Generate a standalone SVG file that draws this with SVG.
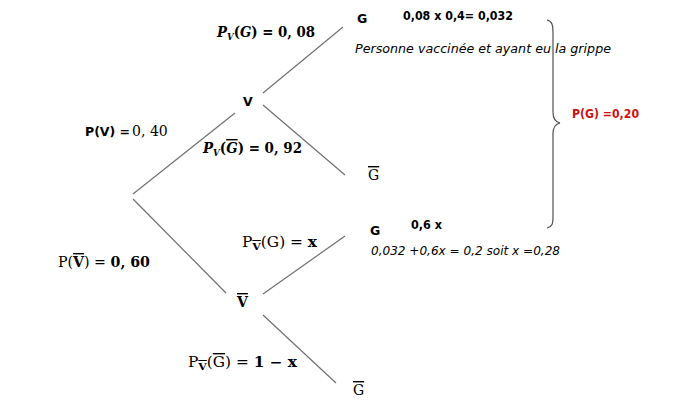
<svg xmlns="http://www.w3.org/2000/svg" width="674" height="409" viewBox="0 0 674 409">
<style>
.s{font-family:"DejaVu Sans","Verdana",sans-serif;font-size:12px;fill:#000}
.sb{font-family:"DejaVu Sans","Verdana",sans-serif;font-size:12.5px;font-weight:bold;fill:#000}
.si{font-family:"DejaVu Sans","Verdana",sans-serif;font-size:12px;font-style:italic;fill:#000}
.m{font-family:"DejaVu Serif","Liberation Serif",serif;font-size:14px;fill:#000}
.ol{text-decoration:overline}
.edge{stroke:#707070;stroke-width:1.2;fill:none}
</style>
<rect width="674" height="409" fill="#fff"/>
<g id="connectors">
<line class="edge" x1="133" y1="194" x2="235" y2="113"/>
<line class="edge" x1="133" y1="199" x2="226" y2="293"/>
<line class="edge" x1="263" y1="93" x2="343" y2="27"/>
<line class="edge" x1="263" y1="105" x2="345" y2="175"/>
<line class="edge" x1="263" y1="294" x2="345" y2="236"/>
<line class="edge" x1="263" y1="315" x2="336" y2="383"/>
</g>
<g id="brace">
<path d="M547,20 C552,21 553,25 553,32 L553,112 C553,119 555,122 560,123 C555,124 553,127 553,134 L553,217 C553,224 552,227 547,228" stroke="#505050" stroke-width="1.2" fill="none"/>
</g>
<g id="node-V">
<text class="sb" x="243" y="106">V</text>
</g>
<g id="node-Vbar">
<text class="m" x="237" y="307" font-weight="bold"><tspan class="ol">V</tspan></text>
</g>
<g id="node-G1">
<text class="sb" x="357" y="23">G</text>
</g>
<g id="node-Gbar1">
<text class="m" x="368" y="180"><tspan class="ol">G</tspan></text>
</g>
<g id="node-G2">
<text class="sb" x="370" y="235">G</text>
</g>
<g id="node-Gbar2">
<text class="m" x="353" y="395"><tspan class="ol">G</tspan></text>
</g>
<g id="labels">
<text class="sb" x="403" y="20" textLength="110" lengthAdjust="spacingAndGlyphs">0,08 x 0,4= 0,032</text>
<text class="si" x="355" y="53" textLength="256" lengthAdjust="spacingAndGlyphs">Personne vaccinée et ayant eu la grippe</text>
<text class="sb" x="572" y="118" style="fill:#d01010" textLength="67" lengthAdjust="spacingAndGlyphs">P(G) =0,20</text>
<text class="sb" x="411" y="229" textLength="31" lengthAdjust="spacingAndGlyphs">0,6 x</text>
<text class="si" x="371" y="255" textLength="189" lengthAdjust="spacingAndGlyphs">0,032 +0,6x = 0,2 soit x =0,28</text>
<text x="85" y="136"><tspan class="sb">P(V) =</tspan><tspan class="m" font-size="13" dx="2">0, 40</tspan></text>
<text class="m" x="217" y="37" font-weight="bold" font-size="13" textLength="98" lengthAdjust="spacingAndGlyphs"><tspan font-style="italic">P</tspan><tspan font-size="9" dy="3" font-style="italic">V</tspan><tspan dy="-3">(</tspan><tspan font-style="italic">G</tspan><tspan>) = 0, 08</tspan></text>
<text class="m" x="203" y="153" font-weight="bold" font-size="13" textLength="99" lengthAdjust="spacingAndGlyphs"><tspan font-style="italic">P</tspan><tspan font-size="9" dy="3" font-style="italic">V</tspan><tspan dy="-3">(</tspan><tspan class="ol" font-style="italic">G</tspan><tspan>) = 0, 92</tspan></text>
<text class="m" x="242" y="247" textLength="75" lengthAdjust="spacingAndGlyphs">P<tspan font-size="10" dy="3" font-weight="bold" class="ol">V</tspan><tspan dy="-3">(G) = </tspan><tspan font-weight="bold">x</tspan></text>
<text class="m" x="58" y="267" textLength="92" lengthAdjust="spacingAndGlyphs">P(<tspan class="ol" font-weight="bold">V</tspan>) = <tspan font-weight="bold">0, 60</tspan></text>
<text class="m" x="188" y="367" textLength="109" lengthAdjust="spacingAndGlyphs">P<tspan font-size="10" dy="3" font-weight="bold" class="ol">V</tspan><tspan dy="-3">(</tspan><tspan class="ol">G</tspan><tspan>) = </tspan><tspan font-weight="bold">1 − x</tspan></text>
</g>
</svg>
